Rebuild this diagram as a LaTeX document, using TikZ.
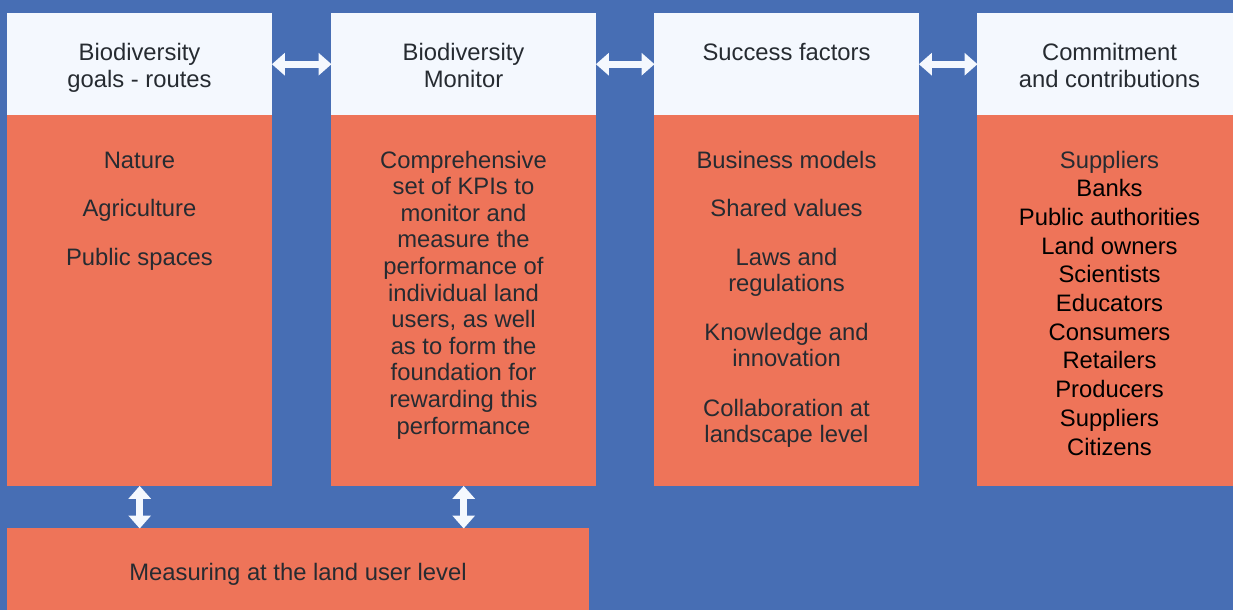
\documentclass[tikz,border=0pt]{standalone}
\usepackage{fontspec}
\setmainfont{Liberation Sans}
\usetikzlibrary{arrows.meta}
\definecolor{bgblue}{HTML}{476EB4}
\definecolor{headfill}{HTML}{F4F8FE}
\definecolor{bodyfill}{HTML}{EE7459}
\definecolor{ink}{HTML}{262B31}
\tikzset{
  x=1pt, y=-1pt,
  head/.style={fill=headfill, draw=none, minimum width=265pt, minimum height=102pt, anchor=north west, inner sep=0pt},
  body/.style={fill=bodyfill, draw=none, minimum width=265pt, minimum height=371pt, anchor=north west, inner sep=0pt},
  txt/.style={anchor=base, inner sep=0pt, text=ink, font=\fontsize{23.8}{28}\selectfont},
  txtk/.style={txt, text=black},
  link/.style={draw=headfill, line width=7pt, {Triangle[width=22pt,length=13pt]}-{Triangle[width=22pt,length=13pt]}, shorten <=-0.5pt, shorten >=-0.5pt},
}
\begin{document}
\begin{tikzpicture}
% canvas
\fill[bgblue] (0,0) rectangle (1233,610);
\useasboundingbox (0,0) rectangle (1233,610);

% column frames
\node[head] (h1) at (7,13) {};
\node[body] (b1) at (7,115) {};
\node[head] (h2) at (331,13) {};
\node[body] (b2) at (331,115) {};
\node[head] (h3) at (654,13) {};
\node[body] (b3) at (654,115) {};
\node[head, minimum width=256pt] (h4) at (977,13) {};
\node[body, minimum width=256pt] (b4) at (977,115) {};
\node[fill=bodyfill, minimum width=582pt, minimum height=82pt, anchor=north west, inner sep=0pt] (base) at (7,528) {};

% headings
\node[txt] (t1a) at (139.5,60) {Biodiversity};
\node[txt] (t1b) at (139.5,87) {goals - routes};
\node[txt] (t2a) at (463.5,60) {Biodiversity};
\node[txt] (t2b) at (463.5,87) {Monitor};
\node[txt] (t3a) at (786.5,60) {Success factors};
\node[txt] (t4a) at (1109.5,60) {Commitment};
\node[txt] (t4b) at (1109.5,87) {and contributions};

% column 1 items
\node[txt] (c1a) at (139.5,168) {Nature};
\node[txt] (c1b) at (139.5,216.5) {Agriculture};
\node[txt] (c1c) at (139.5,265) {Public spaces};

% column 2 paragraph
\foreach \s [count=\i from 0] in {Comprehensive,set of KPIs to,monitor and,measure the,performance of,individual land,{users, as well},as to form the,foundation for,rewarding this,performance}
  \node[txt] (c2l\i) at (463.5,168+26.6*\i) {\s};

% column 3 items
\node[txt] (c3a) at (786.5,168) {Business models};
\node[txt] (c3b) at (786.5,216.5) {Shared values};
\node[txt] (c3c) at (786.5,265) {Laws and};
\node[txt] (c3d) at (786.5,291) {regulations};
\node[txt] (c3e) at (786.5,340) {Knowledge and};
\node[txt] (c3f) at (786.5,366) {innovation};
\node[txt] (c3g) at (786.5,416) {Collaboration at};
\node[txt] (c3h) at (786.5,442) {landscape level};

% column 4 list
\node[txt] (c4l0) at (1109.5,168) {Suppliers};
\foreach \s [count=\i] in {Banks,Public authorities,Land owners,Scientists,Educators,Consumers,Retailers,Producers,Suppliers,Citizens}
  \node[txtk] (c4l\i) at (1109.5,168+28.7*\i) {\s};

% bottom bar
\node[txt] (bt) at (298,580) {Measuring at the land user level};

% links between columns
\draw[link] (h1.east) -- (h2.west);
\draw[link] (h2.east) -- (h3.west);
\draw[link] (h3.east) -- (h4.west);
\draw[link] (b1.south) -- (b1.south |- base.north);
\draw[link] (b2.south) -- (b2.south |- base.north);
\end{tikzpicture}
\end{document}
